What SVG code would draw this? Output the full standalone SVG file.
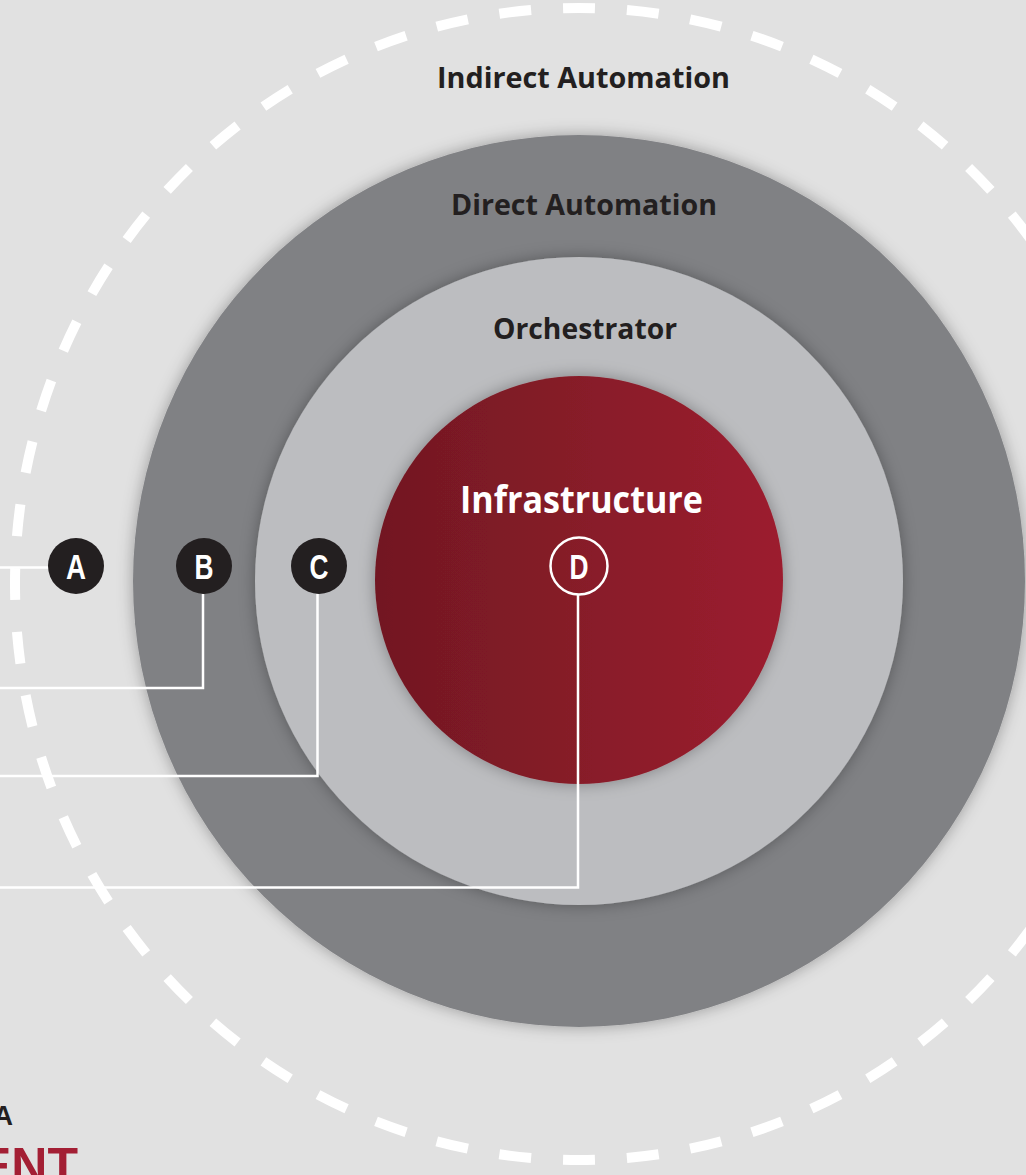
<svg xmlns="http://www.w3.org/2000/svg" width="1026" height="1175" viewBox="0 0 1026 1175">
  <defs>
    <linearGradient id="redGrad" x1="0" y1="0" x2="1" y2="0">
      <stop offset="0" stop-color="#721822"/>
      <stop offset="1" stop-color="#9c1f2f"/>
    </linearGradient>
    <filter id="shadow" x="-20%" y="-20%" width="140%" height="140%">
      <feGaussianBlur in="SourceAlpha" stdDeviation="8"/>
      <feOffset dx="0" dy="0" result="b"/>
      <feFlood flood-color="#000" flood-opacity="0.32"/>
      <feComposite in2="b" operator="in" result="s"/>
      <feMerge><feMergeNode in="s"/><feMergeNode in="SourceGraphic"/></feMerge>
    </filter>
    <style>
      .ring-label { font-family: "Open Sans", "Liberation Sans", sans-serif; font-weight: 700; font-size: 29px; fill: #231f20; text-anchor: middle; }
      .node-dot { fill: #231f20; }
      .node-letter { font-family: "Liberation Sans", "Arial", sans-serif; font-weight: 700; font-size: 35px; fill: #ffffff; text-anchor: middle; }
      .conn { fill: none; stroke: #ffffff; stroke-width: 2.5; }
    </style>
  </defs>

  <rect x="0" y="0" width="1026" height="1175" fill="#e1e1e1"/>

  <g id="indirect-automation">
    <ellipse cx="579" cy="584" rx="564" ry="576" fill="none" stroke="#ffffff" stroke-width="10" pathLength="112" stroke-dasharray="1 1" stroke-dashoffset="0.5"/>
    <text class="ring-label" x="583.5" y="88" textLength="293" lengthAdjust="spacingAndGlyphs">Indirect Automation</text>
  </g>

  <g id="direct-automation">
    <circle cx="579" cy="581" r="446" fill="#808184" filter="url(#shadow)"/>
    <text class="ring-label" x="584" y="215" textLength="266" lengthAdjust="spacingAndGlyphs">Direct Automation</text>
  </g>

  <g id="orchestrator">
    <circle cx="579" cy="581" r="324" fill="#bcbdc0" filter="url(#shadow)"/>
    <text class="ring-label" x="585" y="339" textLength="184" lengthAdjust="spacingAndGlyphs">Orchestrator</text>
  </g>

  <g id="infrastructure">
    <circle cx="579" cy="580" r="204" fill="url(#redGrad)" filter="url(#shadow)"/>
    <text x="581.5" y="513" font-family="Open Sans, Liberation Sans, sans-serif" font-weight="700" font-size="37" fill="#ffffff" text-anchor="middle" textLength="243" lengthAdjust="spacingAndGlyphs">Infrastructure</text>
  </g>

  <g id="connectors">
    <path class="conn" d="M0 567.5 H50"/>
    <path class="conn" d="M203 594 V688 H0"/>
    <path class="conn" d="M317.5 594 V776 H0"/>
    <path class="conn" d="M578 595 V887.5 H0"/>
  </g>

  <g id="node-a">
    <circle class="node-dot" cx="76" cy="566" r="28"/>
    <text class="node-letter" x="76" y="579" textLength="20" lengthAdjust="spacingAndGlyphs">A</text>
  </g>
  <g id="node-b">
    <circle class="node-dot" cx="204" cy="566" r="28"/>
    <text class="node-letter" x="204" y="579" textLength="19" lengthAdjust="spacingAndGlyphs">B</text>
  </g>
  <g id="node-c">
    <circle class="node-dot" cx="319" cy="566" r="28"/>
    <text class="node-letter" x="319" y="579" textLength="19" lengthAdjust="spacingAndGlyphs">C</text>
  </g>
  <g id="node-d">
    <circle cx="579" cy="566" r="28.5" fill="none" stroke="#ffffff" stroke-width="2.5"/>
    <text class="node-letter" x="579" y="579" textLength="19" lengthAdjust="spacingAndGlyphs">D</text>
  </g>

  <g id="footer">
    <text x="13" y="1125" font-family="Liberation Sans, sans-serif" font-weight="700" font-size="27" fill="#231f20" text-anchor="end">A</text>
    <text x="-22" y="1183" font-family="Liberation Sans, sans-serif" font-weight="700" font-size="50" fill="#a31f34">ENT.</text>
  </g>
</svg>
